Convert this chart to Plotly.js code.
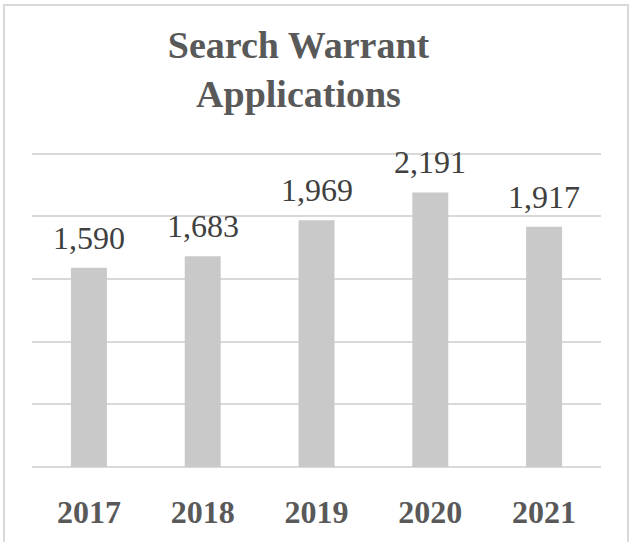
<!DOCTYPE html>
<html>
<head>
<meta charset="utf-8">
<script src="https://cdn.plot.ly/plotly-3.0.1.min.js"></script>
<style>
html,body{margin:0;padding:0;overflow:hidden;background:#fff;}
#chart{position:absolute;left:0;top:0;width:629px;height:542px;}
#frame{position:absolute;left:3px;top:4px;width:626px;height:600px;border:2px solid #d9d9d9;box-sizing:border-box;pointer-events:none;}
</style>
</head>
<body>
<div id="chart"></div>
<div id="frame"></div>
<script>
var years = ["2017", "2018", "2019", "2020", "2021"];
var applications = [1590, 1683, 1969, 2191, 1917];
var valueLabels = ["1,590", "1,683", "1,969", "2,191", "1,917"];

var trace = {
  type: "bar",
  x: years,
  y: applications,
  marker: {color: "#c9c9c9"},
  hoverinfo: "none"
};

var annotations = years.map(function(yr, i){
  return {
    x: i, y: applications[i], xref: "x", yref: "y",
    text: valueLabels[i], showarrow: false,
    yanchor: "bottom", yshift: 10,
    font: {family: "Liberation Serif, serif", size: 32, color: "#404040"}
  };
});

var layout = {
  width: 629, height: 542,
  margin: {l: 32, r: 28, t: 150, b: 75},
  paper_bgcolor: "#ffffff",
  plot_bgcolor: "#ffffff",
  bargap: 0.684,
  showlegend: false,
  title: {
    text: "<b>Search Warrant<br>Applications</b>",
    font: {family: "Liberation Serif, serif", size: 38, color: "#595959"},
    xref: "container", yref: "container",
    x: 298.5/629, xanchor: "center",
    y: 1 - 58/542, yanchor: "middle"
  },
  xaxis: {
    type: "category",
    range: [-0.5, 4.5],
    autorange: false,
    showgrid: false,
    showline: false,
    ticks: "",
    tickfont: {family: "Liberation Serif, serif", size: 32, color: "#595959", weight: "bold"},
    ticklabelstandoff: 23,
    fixedrange: true
  },
  yaxis: {
    range: [0, 2530],
    autorange: false,
    tick0: 0,
    dtick: 500,
    showticklabels: false,
    gridcolor: "#d9d9d9",
    gridwidth: 2,
    zeroline: true,
    zerolinecolor: "#d9d9d9",
    zerolinewidth: 2,
    showline: false,
    ticks: "",
    fixedrange: true
  },
  annotations: annotations
};

Plotly.newPlot("chart", [trace], layout, {displayModeBar: false, staticPlot: true});
</script>
</body>
</html>
